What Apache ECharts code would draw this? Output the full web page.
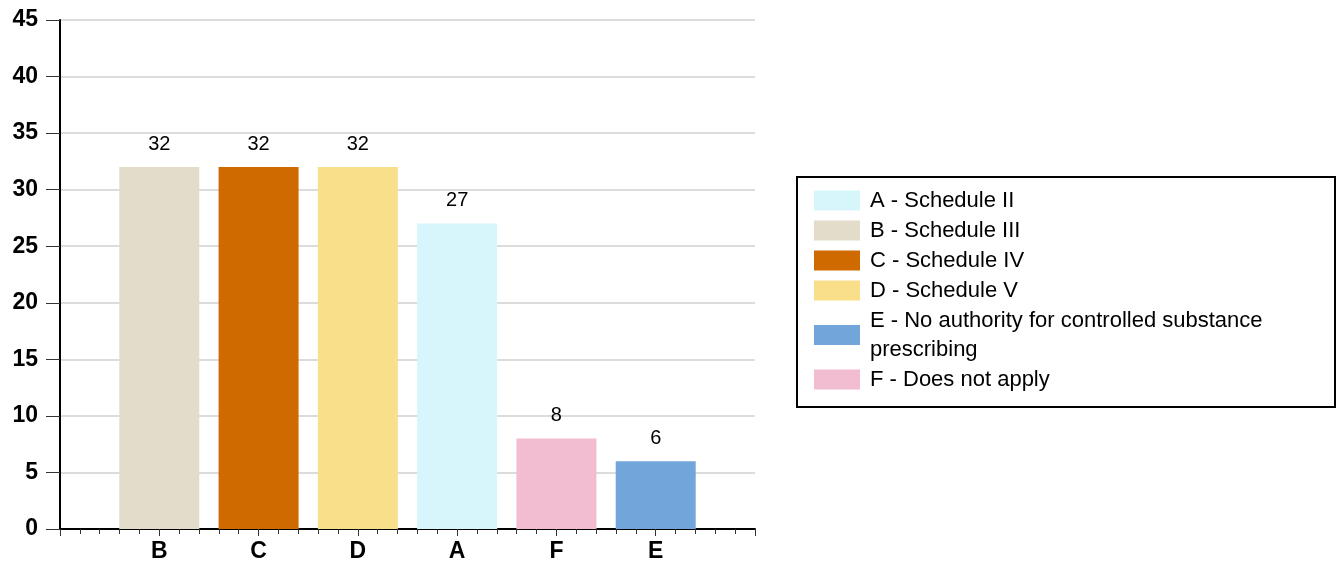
<!DOCTYPE html>
<html><head><meta charset="utf-8">
<script src="https://cdn.jsdelivr.net/npm/echarts@6/dist/echarts.min.js"></script>
<style>html,body{margin:0;padding:0;background:#fff}#c{width:1336px;height:566px}</style>
</head><body><div id="c"></div>
<script>
const order = ['B','C','D','A','F','E'];
const legendNames = ['A - Schedule II','B - Schedule III','C - Schedule IV','D - Schedule V','E - No authority for controlled substance prescribing','F - Does not apply'];
const letters = ['A','B','C','D','E','F'];
const values = [27, 32, 32, 32, 6, 8];
const colors = ['#d6f6fb','#e3dccb','#cf6a00','#f9df8a','#72a6da','#f2bcd1'];
const yTicks = {min:0, max:45, interval:5};

const FONT = 'Liberation Sans, Arial, sans-serif';
const series = letters.map((L, i) => ({
  name: legendNames[i],
  type: 'bar',
  barWidth: 80,
  barGap: '-100%',
  itemStyle: {color: colors[i]},
  label: {show: true, position: 'top', distance: 13, color: '#000', fontSize: 20, fontFamily: FONT},
  data: [[order.indexOf(L) + 1, values[i]]]
}));

const chart = echarts.init(document.getElementById('c'));
chart.setOption({
  animation: false,
  grid: {left: 60, top: 20, width: 695, height: 509},
  xAxis: {
    type: 'value', min: 0, max: order.length + 1, interval: 1,
    axisLine: {show: true, onZero: false, lineStyle: {color: '#000', width: 2}},
    axisTick: {show: true, length: 7, lineStyle: {color: '#333', width: 1}},
    minorTick: {show: true, splitNumber: 5, length: 5, lineStyle: {color: '#333', width: 1}},
    splitLine: {show: false},
    axisLabel: {
      margin: 11, color: '#000', fontSize: 23, fontWeight: 'bold', fontFamily: FONT,
      formatter: v => (v >= 1 && v <= order.length) ? order[v - 1] : ''
    }
  },
  yAxis: {
    type: 'value', min: yTicks.min, max: yTicks.max, interval: yTicks.interval,
    axisLine: {show: true, lineStyle: {color: '#000', width: 2}},
    axisTick: {show: true, length: 14, lineStyle: {color: '#333', width: 1}},
    splitLine: {show: true, lineStyle: {color: '#dcdcdc', width: 2}},
    axisLabel: {margin: 22, color: '#000', fontSize: 23, fontWeight: 'bold', fontFamily: FONT}
  },
  legend: {
    orient: 'vertical', left: 809, top: 181,
    itemWidth: 46, itemHeight: 20, itemGap: 1,
    icon: 'rect',
    data: legendNames,
    textStyle: {fontSize: 22, color: '#000', fontFamily: FONT, width: 450, overflow: 'break', lineHeight: 29, padding: [0,0,0,5]}
  },
  graphic: [{type: 'rect', shape: {x: 797, y: 177, width: 538, height: 230}, style: {fill: 'none', stroke: '#000', lineWidth: 2}, silent: true}],
  series: series
});
</script></body></html>
